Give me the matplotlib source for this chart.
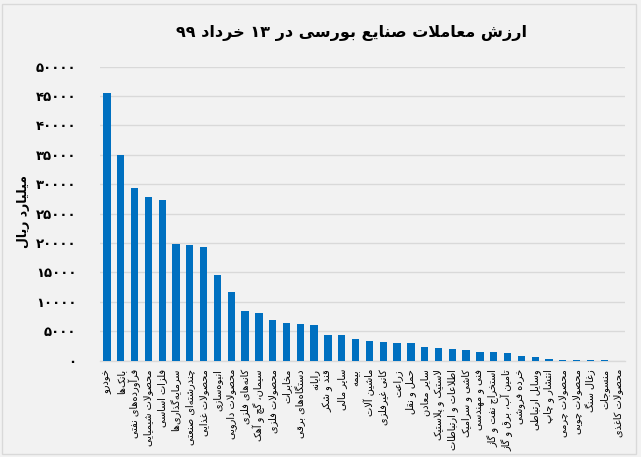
import matplotlib
matplotlib.use("Agg")
import matplotlib.pyplot as plt
from matplotlib.patches import Rectangle

# ---------------- data ----------------
categories = [
    "خودرو", "بانک‌ها", "فرآورده‌های نفتی", "محصولات شیمیایی", "فلزات اساسی",
    "سرمایه‌گذاری‌ها", "چندرشته‌ای صنعتی", "محصولات غذایی", "انبوه‌سازی",
    "محصولات دارویی", "کانه‌های فلزی", "سیمان، گچ و آهک", "محصولات فلزی",
    "مخابرات", "دستگاه‌های برقی", "رایانه", "قند و شکر", "سایر مالی", "بیمه",
    "ماشین آلات", "کانی غیرفلزی", "زراعت", "حمل و نقل", "سایر معادن",
    "لاستیک و پلاستیک", "اطلاعات و ارتباطات", "کاشی و سرامیک", "فنی و مهندسی",
    "استخراج نفت و گاز", "تامین آب، برق و گاز", "خرده فروشی", "وسایل ارتباطی",
    "انتشار و چاپ", "محصولات چرمی", "محصولات چوبی", "زغال سنگ", "منسوجات",
    "محصولات کاغذی",
]
values = [
    45500, 34900, 29300, 27800, 27250, 19800, 19650, 19400, 14550, 11600,
    8450, 8150, 6950, 6450, 6250, 6050, 4320, 4300, 3640, 3300,
    3130, 3020, 3000, 2270, 2160, 2000, 1750, 1520, 1460, 1300,
    790, 560, 230, 170, 110, 80, 40, 10,
]
tick_values = [0, 5000, 10000, 15000, 20000, 25000, 30000, 35000, 40000, 45000, 50000]
tick_labels = ["۰", "۵۰۰۰", "۱۰۰۰۰", "۱۵۰۰۰", "۲۰۰۰۰", "۲۵۰۰۰",
               "۳۰۰۰۰", "۳۵۰۰۰", "۴۰۰۰۰", "۴۵۰۰۰", "۵۰۰۰۰"]
title_text = "ارزش معاملات صنایع بورسی در ۱۳ خرداد ۹۹"
ylabel_text = "میلیارد ریال"

# ------------- minimal Persian shaping -------------
FORMS = {  # isolated, final, initial, medial
    'ا': (0xFE8D, 0xFE8E, None, None), 'آ': (0xFE81, 0xFE82, None, None),
    'أ': (0xFE83, 0xFE84, None, None), 'إ': (0xFE87, 0xFE88, None, None),
    'ب': (0xFE8F, 0xFE90, 0xFE91, 0xFE92), 'پ': (0xFB56, 0xFB57, 0xFB58, 0xFB59),
    'ت': (0xFE95, 0xFE96, 0xFE97, 0xFE98), 'ث': (0xFE99, 0xFE9A, 0xFE9B, 0xFE9C),
    'ج': (0xFE9D, 0xFE9E, 0xFE9F, 0xFEA0), 'چ': (0xFB7A, 0xFB7B, 0xFB7C, 0xFB7D),
    'ح': (0xFEA1, 0xFEA2, 0xFEA3, 0xFEA4), 'خ': (0xFEA5, 0xFEA6, 0xFEA7, 0xFEA8),
    'د': (0xFEA9, 0xFEAA, None, None), 'ذ': (0xFEAB, 0xFEAC, None, None),
    'ر': (0xFEAD, 0xFEAE, None, None), 'ز': (0xFEAF, 0xFEB0, None, None),
    'ژ': (0xFB8A, 0xFB8B, None, None),
    'س': (0xFEB1, 0xFEB2, 0xFEB3, 0xFEB4), 'ش': (0xFEB5, 0xFEB6, 0xFEB7, 0xFEB8),
    'ص': (0xFEB9, 0xFEBA, 0xFEBB, 0xFEBC), 'ض': (0xFEBD, 0xFEBE, 0xFEBF, 0xFEC0),
    'ط': (0xFEC1, 0xFEC2, 0xFEC3, 0xFEC4), 'ظ': (0xFEC5, 0xFEC6, 0xFEC7, 0xFEC8),
    'ع': (0xFEC9, 0xFECA, 0xFECB, 0xFECC), 'غ': (0xFECD, 0xFECE, 0xFECF, 0xFED0),
    'ف': (0xFED1, 0xFED2, 0xFED3, 0xFED4), 'ق': (0xFED5, 0xFED6, 0xFED7, 0xFED8),
    'ک': (0xFB8E, 0xFB8F, 0xFB90, 0xFB91), 'ك': (0xFED9, 0xFEDA, 0xFEDB, 0xFEDC),
    'گ': (0xFB92, 0xFB93, 0xFB94, 0xFB95),
    'ل': (0xFEDD, 0xFEDE, 0xFEDF, 0xFEE0), 'م': (0xFEE1, 0xFEE2, 0xFEE3, 0xFEE4),
    'ن': (0xFEE5, 0xFEE6, 0xFEE7, 0xFEE8), 'ه': (0xFEE9, 0xFEEA, 0xFEEB, 0xFEEC),
    'و': (0xFEED, 0xFEEE, None, None),
    'ی': (0xFBFC, 0xFBFD, 0xFBFE, 0xFBFF), 'ي': (0xFEF1, 0xFEF2, 0xFEF3, 0xFEF4),
    'ئ': (0xFE89, 0xFE8A, 0xFE8B, 0xFE8C),
}
LAM_ALEF = {'ا': (0xFEFB, 0xFEFC), 'آ': (0xFEF5, 0xFEF6),
            'أ': (0xFEF7, 0xFEF8), 'إ': (0xFEF9, 0xFEFA)}


def dual(c):
    return c in FORMS and FORMS[c][2] is not None


def joins(c):
    return c in FORMS


def shape(text):
    chars = list(text)
    out = []
    i = 0
    n = len(chars)
    while i < n:
        c = chars[i]
        if c not in FORMS:
            if c != '\u200c':
                out.append(c)
            i += 1
            continue
        prev = chars[i - 1] if i > 0 else ''
        con_prev = dual(prev)
        if c == 'ل' and i + 1 < n and chars[i + 1] in LAM_ALEF:
            iso, fin = LAM_ALEF[chars[i + 1]]
            out.append(chr(fin if con_prev else iso))
            i += 2
            continue
        nxt = chars[i + 1] if i + 1 < n else ''
        con_next = dual(c) and joins(nxt)
        iso, fin, ini, med = FORMS[c]
        if con_prev and con_next:
            g = med
        elif con_prev:
            g = fin
        elif con_next:
            g = ini
        else:
            g = iso
        out.append(chr(g))
        i += 1
    s = ''.join(out)
    runs = []
    buf = ''
    for ch in s:
        if ch.isdigit():
            buf += ch
        else:
            if buf:
                runs.append(buf)
                buf = ''
            runs.append(ch)
    if buf:
        runs.append(buf)
    return ''.join(reversed(runs))


# ---------------- plot ----------------
BG = "#f2f2f2"
GRID = "#d9d9d9"
BAR = "#0070c0"
FONT = ["DejaVu Sans"]

fig = plt.figure(figsize=(6.41, 4.57), dpi=100, facecolor=BG)
ax = fig.add_axes([100 / 641, 1 - 360.7 / 457, 525 / 641, (360.7 - 66.6) / 457])
ax.set_facecolor(BG)

x = list(range(len(categories)))
ax.bar(x, values, width=0.53, color=BAR, zorder=3)

ax.set_xlim(-0.5, len(categories) - 0.5)
ax.set_ylim(0, 50000)
ax.set_yticks(tick_values)
ax.set_yticklabels(tick_labels, fontsize=9.5, fontweight="bold", family=FONT)
ax.set_xticks(x)
ax.set_xticklabels([shape(c) for c in categories], rotation=90, fontsize=7,
                   family=FONT, ha="center", va="top")
ax.tick_params(axis="both", length=0, colors="#000000")
ax.tick_params(axis="y", pad=17)
ax.tick_params(axis="x", pad=6)
ax.grid(axis="y", color=GRID, linewidth=1, zorder=0)
for s in ["top", "right", "left"]:
    ax.spines[s].set_visible(False)
ax.spines["bottom"].set_color(GRID)
ax.spines["bottom"].set_linewidth(1)

fig.text(352 / 641, 1 - 33 / 457, shape(title_text), ha="center", va="center",
         fontsize=11.5, fontweight="bold", family=FONT)
fig.text(24 / 641, 1 - 211 / 457, shape(ylabel_text), ha="center", va="center",
         rotation=90, fontsize=9, fontweight="bold", family=FONT)

fig.patches.append(Rectangle((2 / 641, 3 / 457), 634 / 641, 450 / 457,
                             transform=fig.transFigure, fill=False,
                             edgecolor=GRID, linewidth=1))

fig.savefig("out.png", dpi=100, facecolor=BG)
